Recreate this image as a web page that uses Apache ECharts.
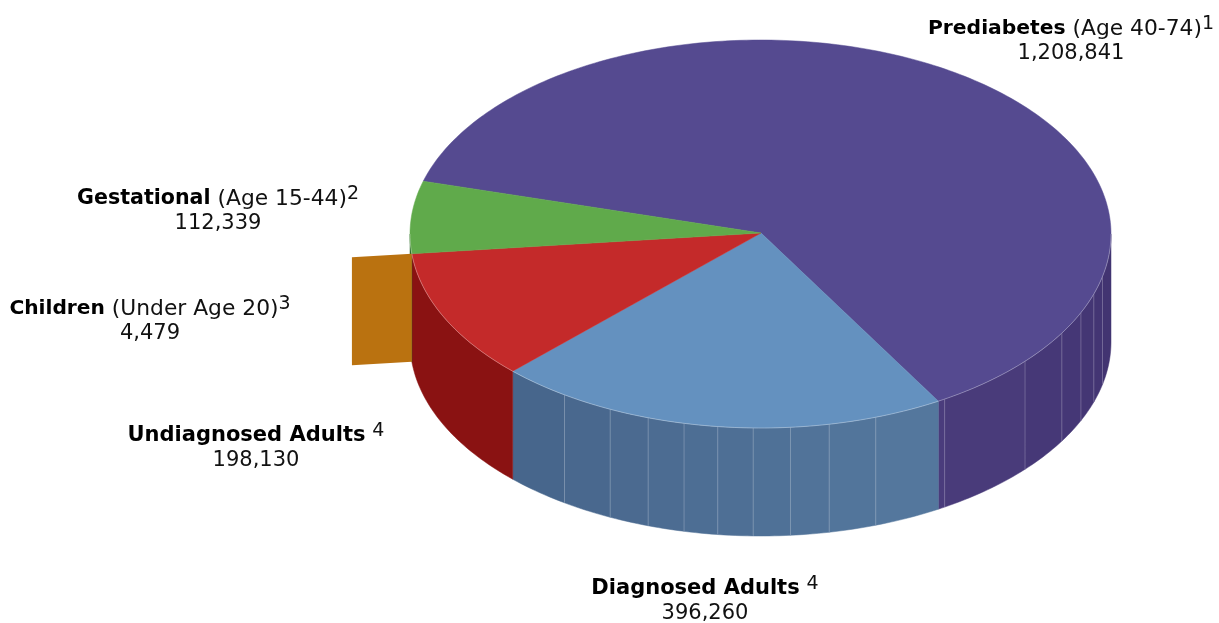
<!DOCTYPE html>
<html>
<head>
<meta charset="utf-8">
<style>
  html, body { margin: 0; padding: 0; background: #fff; }
  #chart { width: 1219px; height: 623px; }
</style>
<script src="https://cdn.jsdelivr.net/npm/echarts@6/dist/echarts.min.js"></script>
</head>
<body>
<div id="chart"></div>
<script>
// Diabetes population by group
const groupNames = ['Prediabetes', 'Diagnosed Adults', 'Undiagnosed Adults', 'Children', 'Gestational'];
const groupQualifiers = [' (Age 40-74)', ' ', ' ', ' (Under Age 20)', ' (Age 15-44)'];
const groupNotes = ['1', '4', '4', '3', '2'];
const groupValues = [1208841, 396260, 198130, 4479, 112339];

// Face colours, and wall colours at the left and right of each slice
const topColors = ['#554a90', '#6491bf', '#c42a2a', '#ba7210', '#60aa4b'];
const wallLeft = ['#4a3c7c', '#46648a', '#8a1212', '#ba7210', '#2f6b2c'];
const wallRight = ['#413370', '#55799f', '#8a1212', '#ba7210', '#2f6b2c'];

// Drum geometry: ellipse centre, radii, wall height, pulled-out length of the smallest slice
const cx = 760.5, cy = 234, rx = 350.5, ry = 194, depth = 108, pullOut = 60;
const apex = [761, 233];
const startDeg = 61.3;           // clockwise from 3 o'clock, where the first slice ends
const viewShiftDeg = 1.8, viewShiftPhase = 155;   // slight angular foreshortening of the view
const facetDeg = [12.6, 18, 23.9, 30.7, 41, 58.3,
                  70.8, 78.7, 85.1, 91.2, 97, 102.6, 108.7, 115.4, 124];
const labelCentres = [[1071, 29], [705, 589], [256, 436], [150, 309], [218, 199]];
const boldSizes = [20.3, 21, 21, 20.2, 20.6];
const lineGap = 25;
const pulledIndex = 3;

const total = groupValues.reduce((a, b) => a + b, 0);

function rim(deg, drop) {
  const t = deg * Math.PI / 180;
  return [cx + rx * Math.cos(t), cy + ry * Math.sin(t) + (drop || 0)];
}
function arc(a, b, drop) {
  const pts = [];
  const n = Math.max(2, Math.ceil(Math.abs(b - a)));
  for (let k = 0; k <= n; k++) pts.push(rim(a + (b - a) * k / n, drop));
  return pts;
}
function mix(c1, c2, f) {
  const p = c => [1, 3, 5].map(i => parseInt(c.substr(i, 2), 16));
  const a = p(c1), b = p(c2);
  return 'rgb(' + a.map((v, i) => Math.round(v + (b[i] - v) * f)).join(',') + ')';
}
function viewAngle(deg) {
  return deg + viewShiftDeg * Math.sin((deg - viewShiftPhase) * Math.PI / 180);
}
// Parts of a slice's sweep that face the viewer, in degrees
function frontRanges(a, b) {
  const out = [];
  [[0, 180], [360, 540]].forEach(([lo, hi]) => {
    const s = Math.max(a, lo), e = Math.min(b, hi);
    if (e > s) out.push([s, e]);
  });
  return out;
}
// Sweep of a slice: the first ends at startDeg, the others follow it clockwise
function sweepOf(i) {
  const before = groupValues.slice(1, i).reduce((a, b) => a + b, 0);
  if (i === 0) {
    return [viewAngle(startDeg - groupValues[0] / total * 360 + 360), viewAngle(startDeg + 360)];
  }
  const s = startDeg + before / total * 360;
  return [viewAngle(s), viewAngle(s + groupValues[i] / total * 360)];
}

function renderSlice(params, api) {
  const i = api.value(0);
  let [a, b] = sweepOf(i);
  // The slice before the pulled one closes the gap left on the drum
  if (i === pulledIndex - 1) b = sweepOf(pulledIndex)[1];
  const children = [];

  if (i === pulledIndex) {
    // The thin pulled-out slice shows only its cut face
    const p = rim(b);
    const k = 1 + pullOut / Math.hypot(p[0] - cx, p[1] - cy);
    const q = [cx + (p[0] - cx) * k, cy + (p[1] - cy) * k];
    children.push({
      type: 'polygon', z2: 2,
      shape: { points: [q, p, [p[0], p[1] + depth], [q[0], q[1] + depth]] },
      style: { fill: topColors[i] }
    });
  } else {
    frontRanges(a, b).forEach(([s, e]) => {
      const offset = s >= 360 ? 360 : 0;
      const edges = [s].concat(
        facetDeg.map(d => d + offset).filter(d => d > s && d < e),
        [e]
      );
      for (let k = 0; k < edges.length - 1; k++) {
        const f = 1 - ((edges[k] + edges[k + 1]) / 2 - s) / (e - s);
        const colour = mix(wallLeft[i], wallRight[i], f);
        children.push({
          type: 'polygon', z2: 1,
          shape: { points: arc(edges[k], edges[k + 1]).concat(arc(edges[k + 1], edges[k], depth)) },
          style: { fill: colour, stroke: colour, lineWidth: 0.5 }
        });
      }
      edges.slice(1, -1).forEach(d => {
        children.push({
          type: 'line', z2: 1.5,
          shape: { x1: rim(d)[0], y1: rim(d)[1], x2: rim(d)[0], y2: rim(d, depth)[1] },
          style: { stroke: 'rgba(255,255,255,0.22)', lineWidth: 1 }
        });
      });
      children.push({
        type: 'polyline', z2: 3.5,
        shape: { points: arc(s, e) },
        style: { fill: null, stroke: 'rgba(255,255,255,0.3)', lineWidth: 1 }
      });
    });
    children.push({
      type: 'polygon', z2: 3,
      shape: { points: [apex].concat(arc(a, b)) },
      style: { fill: topColors[i], stroke: topColors[i], lineWidth: 0.5 }
    });
  }

  const [lx, ly] = labelCentres[i];
  children.push({
    type: 'text', z2: 5, x: lx, y: ly,
    style: {
      text: '{b|' + groupNames[i] + '}{n|' + groupQualifiers[i] + '}{s|' + groupNotes[i] + '}',
      align: 'center', verticalAlign: 'middle',
      rich: {
        b: { font: 'bold ' + boldSizes[i] + 'px "DejaVu Sans"', fill: '#000' },
        n: { font: '21.8px "DejaVu Sans"', fill: '#111' },
        s: { font: '19px "DejaVu Sans"', fill: '#111', padding: [0, 0, 9, 0] }
      }
    }
  });
  children.push({
    type: 'text', z2: 5, x: lx, y: ly + lineGap,
    style: {
      text: api.value(1).toLocaleString('en-US'),
      align: 'center', verticalAlign: 'middle',
      font: '21px "DejaVu Sans"', fill: '#111'
    }
  });
  return { type: 'group', children };
}

const chart = echarts.init(document.getElementById('chart'), null, { renderer: 'canvas' });
chart.setOption({
  animation: false,
  backgroundColor: '#ffffff',
  series: [{
    type: 'custom',
    coordinateSystem: 'none',
    silent: true,
    clip: false,
    data: groupValues.map((v, i) => [i, v]),
    renderItem: renderSlice
  }]
});
</script>
</body>
</html>
